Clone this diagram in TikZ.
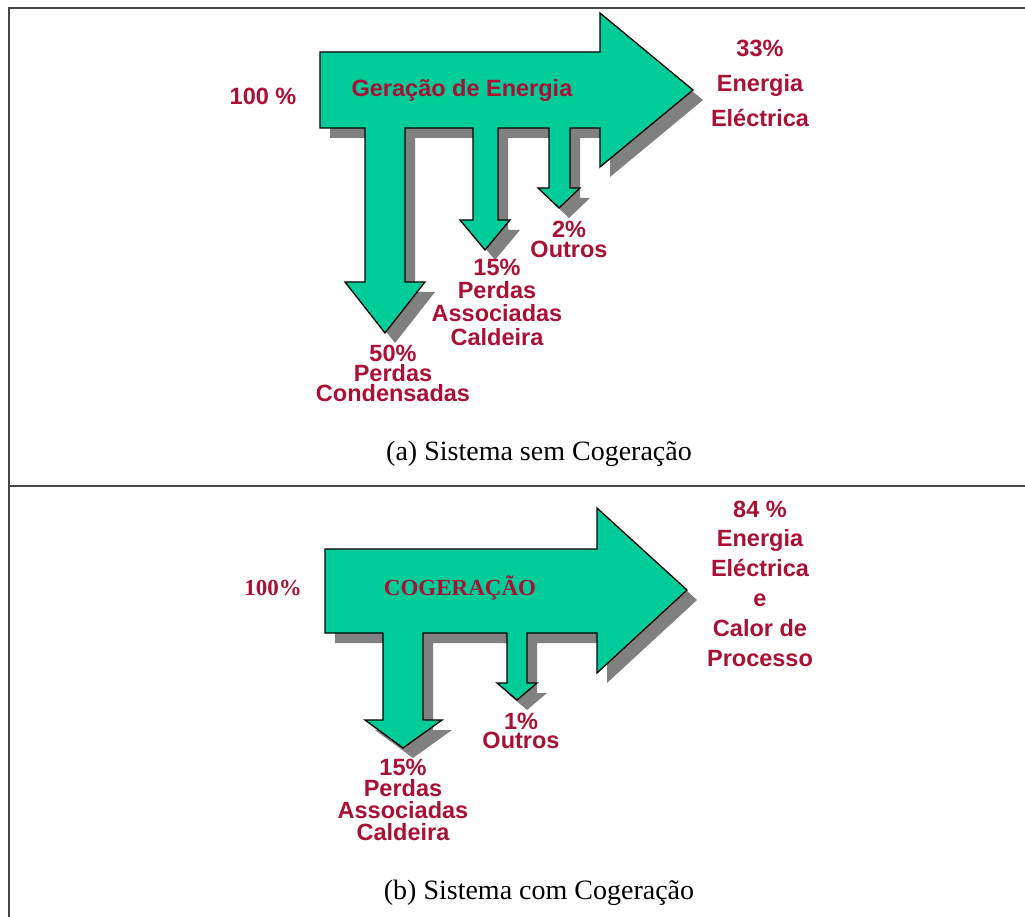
\documentclass[tikz,border=0pt]{standalone}
\usepackage{fontspec}
\setmainfont{Liberation Serif}
\newfontfamily\lsans{Liberation Sans}
\definecolor{arrowgreen}{RGB}{0,204,153}
\definecolor{shadowgray}{RGB}{128,128,128}
\definecolor{labelred}{RGB}{170,16,52}
\definecolor{framegray}{RGB}{70,70,70}
\tikzset{
  flowfill/.style={fill=arrowgreen,draw=black,line width=1.3pt,line join=miter},
  flowshadow/.style={fill=shadowgray},
  lab/.style={text=labelred,inner sep=0pt,align=center,font=\lsans\bfseries\fontsize{23.5}{23.5}\selectfont},
  serlab/.style={text=labelred,inner sep=0pt,font=\bfseries\fontsize{23}{23}\selectfont},
  caption/.style={inner sep=0pt,font=\fontsize{28}{28}\selectfont},
  frameline/.style={draw=framegray,line width=2pt}
}
\begin{document}
\begin{tikzpicture}[x=1pt,y=-1pt]
\useasboundingbox (0,0) rectangle (1025,917);
% frame
\draw[frameline] (9,917) -- (9,8) -- (1025,8);
\draw[frameline] (9,486) -- (1025,486);

% ---------- top panel ----------
\def\toparrow{(320,52) -- (600,52) -- (600,13) -- (693,90) -- (600,167) -- (600,128) -- (570,128) -- (570,188) -- (580,188) -- (559,208) -- (538,188) -- (549,188) -- (549,128) -- (498,128) -- (498,220) -- (510,220) -- (485,250) -- (460,220) -- (473,220) -- (473,128) -- (405,128) -- (405,282) -- (425,282) -- (385,333) -- (345,282) -- (365,282) -- (365,128) -- (320,128) -- cycle}
\path[flowshadow,shift={(10,10)}] \toparrow;
\path[flowfill] \toparrow;

\node[lab,anchor=base] (in1) at (263,105) {100 \%};
\node[lab,anchor=base] (gen) at (462,97) {Geração de Energia};
\node[lab,font=\lsans\bfseries\fontsize{23.5}{35}\selectfont] (out1) at (760,83) {33\%\\Energia\\Eléctrica};
\node[lab,font=\lsans\bfseries\fontsize{23.5}{20}\selectfont] (cond) at (393,373) {50\%\\Perdas\\Condensadas};
\node[lab,font=\lsans\bfseries\fontsize{23.5}{23.3}\selectfont] (cald1) at (497,302) {15\%\\Perdas\\Associadas\\Caldeira};
\node[lab,font=\lsans\bfseries\fontsize{23.5}{20}\selectfont] (oth1) at (569,239.5) {2\%\\Outros};
\node[caption] (capa) at (539,453.5) {(a) Sistema sem Cogeração};

% ---------- bottom panel ----------
\def\botarrow{(325,549) -- (597,549) -- (597,508) -- (687,590) -- (597,673) -- (597,633) -- (527,633) -- (527,683) -- (537,683) -- (517,700) -- (497,683) -- (507,683) -- (507,633) -- (423,633) -- (423,720) -- (442,720) -- (403,748) -- (365,720) -- (383,720) -- (383,633) -- (325,633) -- cycle}
\path[flowshadow,shift={(10,10)}] \botarrow;
\path[flowfill] \botarrow;

\node[serlab,anchor=base] (in2) at (273,595) {100\%};
\node[serlab,anchor=base] (cog) at (460,595) {COGERAÇÃO};
\node[lab,font=\lsans\bfseries\fontsize{23.5}{29.8}\selectfont] (out2) at (760,583.5) {84 \%\\Energia\\Eléctrica\\e\\Calor de\\Processo};
\node[lab,font=\lsans\bfseries\fontsize{23.5}{21.7}\selectfont] (cald2) at (403,799.5) {15\%\\Perdas\\Associadas\\Caldeira};
\node[lab,font=\lsans\bfseries\fontsize{23.5}{19}\selectfont] (oth2) at (521,731) {1\%\\Outros};
\node[caption] (capb) at (539,893) {(b) Sistema com Cogeração};
\end{tikzpicture}
\end{document}
